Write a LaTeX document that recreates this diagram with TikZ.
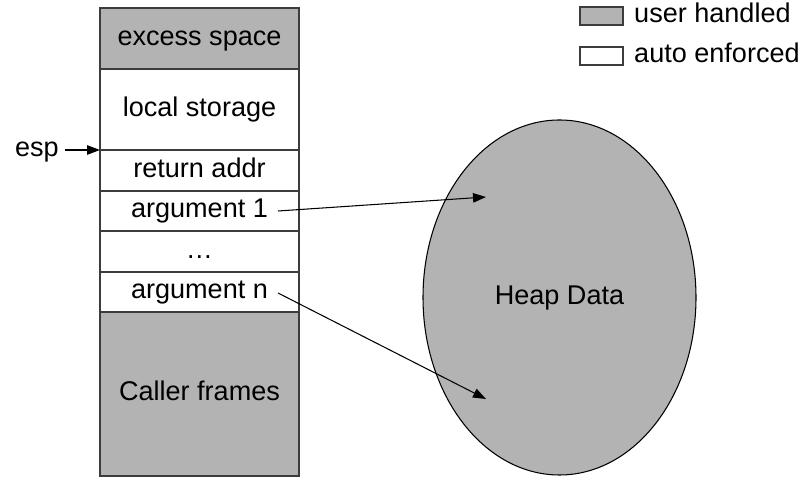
\documentclass[tikz,border=0pt]{standalone}
\usepackage{fontspec}
\setmainfont{Liberation Sans}
\usetikzlibrary{arrows.meta,positioning,shapes.geometric}
\definecolor{frameink}{HTML}{000000}
\definecolor{frameline}{HTML}{3C3C3C}
\definecolor{framegray}{HTML}{B3B3B3}
\tikzset{
  frametext/.style={font=\fontsize{15.4}{18}\selectfont, text=frameink,
    text height=11pt, text depth=3.2pt},
  whitecell/.style={frametext, draw=frameline, fill=white, line width=.6pt,
    minimum width=3.98cm, inner sep=0pt, outer sep=0pt, anchor=north},
  graycell/.style={whitecell, fill=framegray},
  keybox/.style={draw=frameline, line width=.6pt, minimum width=.86cm,
    minimum height=.36cm, inner sep=0pt, outer sep=0pt},
  pointer/.style={-{Triangle[length=2.6mm,width=1.9mm]}, draw=frameink, line width=.6pt}
}

\begin{document}
\begin{tikzpicture}[x=1cm,y=1cm]
  \useasboundingbox (0,0) rectangle (16.22,9.56);
  % Stack frame, top to bottom.
  \node[graycell, minimum height=1.22cm] (excess) at (3.99,9.40) {excess space};
  \node[whitecell, minimum height=1.62cm, below=0pt of excess] (local) {local storage};
  \node[whitecell, minimum height=.82cm, below=0pt of local] (retaddr) {return addr};
  \node[whitecell, minimum height=.80cm, below=0pt of retaddr] (arg1) {argument 1};
  \node[whitecell, minimum height=.82cm, below=0pt of arg1] (argdots) {…};
  \node[whitecell, minimum height=.80cm, below=0pt of argdots] (argn) {argument n};
  \node[graycell, minimum height=3.28cm, below=0pt of argn] (caller) {Caller frames};

  \node[frametext, anchor=east] (esp) at (1.30,6.56) {esp};
  \draw[pointer] (esp.east) -- (retaddr.north west);

  \node[frametext, ellipse, draw=frameink, fill=framegray, line width=.6pt,
    minimum width=5.46cm, minimum height=7.10cm, inner sep=0pt] (heap) at (11.19,3.61) {Heap Data};

  \coordinate (arg1tail) at (5.56,5.34);
  \coordinate (arg1head) at (9.72,5.62);
  \coordinate (argntail) at (5.56,3.70);
  \coordinate (argnhead) at (9.72,1.58);
  \draw[pointer] (arg1tail) -- (arg1head);
  \draw[pointer] (argntail) -- (argnhead);

  % Legend.
  \node[keybox, fill=framegray] (userkey) at (12.03,9.24) {};
  \node[frametext, right=.1cm of userkey] (usertext) {user handled};
  \node[keybox, fill=white] (autokey) at (12.03,8.44) {};
  \node[frametext, right=.1cm of autokey] (autotext) {auto enforced};
\end{tikzpicture}
\end{document}
